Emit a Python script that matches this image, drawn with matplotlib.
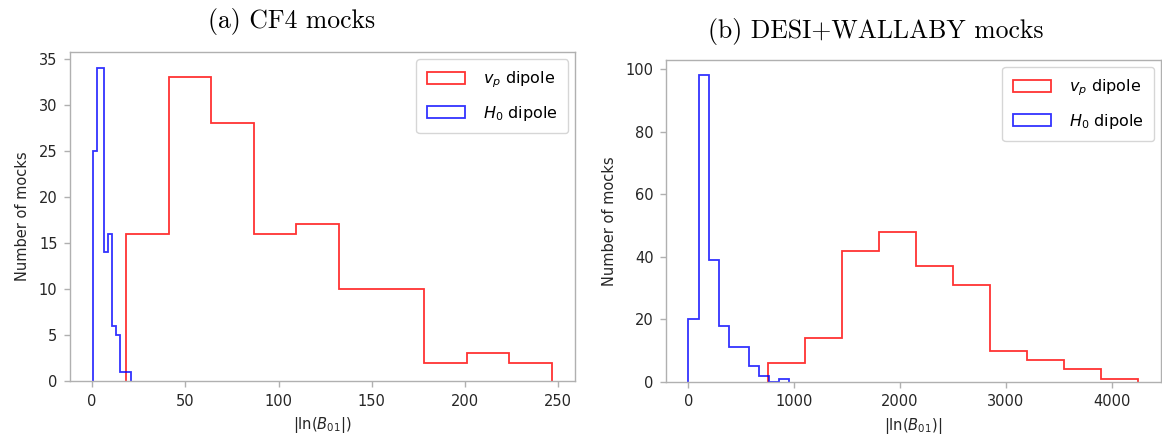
import numpy as np
import matplotlib
matplotlib.use('Agg')
import matplotlib.pyplot as plt

# (a) CF4 mocks, |ln B01| histograms (10 bins each)
cf4_vp_edges = [18.4, 41.2, 64.0, 86.8, 109.6, 132.4, 155.2, 178.0, 200.8, 223.6, 246.6]
cf4_vp_counts = [16, 33, 28, 16, 17, 10, 10, 2, 3, 2]
cf4_h0_edges = [0.5, 2.56, 4.62, 6.68, 8.74, 10.8, 12.86, 14.92, 16.98, 19.04, 21.1]
cf4_h0_counts = [25, 34, 34, 14, 16, 6, 5, 1, 1, 1]

# (b) DESI+WALLABY mocks
dw_vp_edges = [751, 1101, 1451, 1801, 2151, 2501, 2851, 3201, 3551, 3901, 4253]
dw_vp_counts = [6, 14, 42, 48, 37, 31, 10, 7, 4, 1]
dw_h0_edges = [0, 95.5, 191, 286.5, 382, 477.5, 573, 668.5, 764, 859.5, 955]
dw_h0_counts = [20, 98, 39, 18, 11, 11, 5, 2, 0, 1]

plt.rcParams['font.size'] = 10.5
plt.rcParams['axes.edgecolor'] = '#b0b0b0'
plt.rcParams['xtick.color'] = '#b0b0b0'
plt.rcParams['ytick.color'] = '#b0b0b0'
plt.rcParams['xtick.labelcolor'] = '#262626'
plt.rcParams['ytick.labelcolor'] = '#262626'
plt.rcParams['axes.labelcolor'] = '#262626'

fig = plt.figure(figsize=(11.62, 4.42), dpi=100)
ax1 = fig.add_axes([0.0602, 0.138, 0.4346, 0.744])
ax2 = fig.add_axes([0.5731, 0.136, 0.4260, 0.728])


def draw(ax, vp_e, vp_c, h0_e, h0_c, xlab):
    ax.hist(vp_e[:-1], bins=vp_e, weights=vp_c, histtype='step',
            color='red', alpha=0.8, lw=1.3, label=r'$v_p$ dipole')
    ax.hist(h0_e[:-1], bins=h0_e, weights=h0_c, histtype='step',
            color='blue', alpha=0.8, lw=1.3, label=r'$H_0$ dipole')
    ax.set_ylabel('Number of mocks', labelpad=6)
    ax.set_xlabel(xlab, labelpad=5)
    ax.legend(loc='upper right', fontsize=11.5, borderpad=0.65,
              labelspacing=0.85, handlelength=2.4, handleheight=0.8,
              handletextpad=1.1, borderaxespad=0.45)
    for s in ax.spines.values():
        s.set_linewidth(1.0)
    ax.tick_params(length=4, width=1.0, pad=5)


draw(ax1, cf4_vp_edges, cf4_vp_counts, cf4_h0_edges, cf4_h0_counts,
     r'$|\ln(B_{01}|)$')
draw(ax2, dw_vp_edges, dw_vp_counts, dw_h0_edges, dw_h0_counts,
     r'$|\ln(B_{01})|$')

fig.text(0.251, 0.952, '(a) CF4 mocks', fontname='cmr10', fontsize=18.5,
         ha='center', va='center')
fig.text(0.754, 0.928, '(b) DESI+WALLABY mocks', fontname='cmr10', fontsize=18.5,
         ha='center', va='center')

fig.savefig('out.png', dpi=100)
